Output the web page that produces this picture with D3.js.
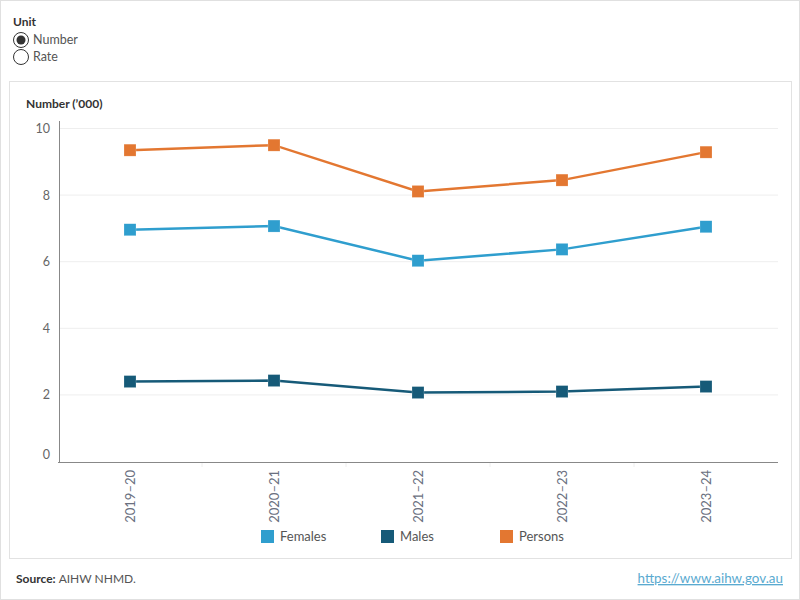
<!DOCTYPE html>
<html><head><meta charset="utf-8">
<script src="https://cdn.jsdelivr.net/npm/d3@7"></script>
<style>
body{margin:0;background:#fff;}
svg{display:block;font-family:Lato,"Noto Sans",sans-serif;}
</style></head>
<body><svg id="chart" width="800" height="600"></svg>
<script>
const categories = ["2019–20","2020–21","2021–22","2022–23","2023–24"];
const females = [6.96, 7.07, 6.03, 6.37, 7.05];
const males = [2.40, 2.43, 2.07, 2.10, 2.25];
const persons = [9.35, 9.50, 8.11, 8.45, 9.29];
const yTicks = [0, 2, 4, 6, 8, 10];
const seriesNames = ["Females","Males","Persons"];
const seriesColors = ["#2F9ECE","#165A78","#E37731"];

const series = [
  {name: seriesNames[0], values: females, color: seriesColors[0]},
  {name: seriesNames[1], values: males, color: seriesColors[1]},
  {name: seriesNames[2], values: persons, color: seriesColors[2]}
];

const svg = d3.select("#chart");
svg.append("rect").attr("x",0.5).attr("y",0.5).attr("width",799).attr("height",599)
  .attr("fill","none").attr("stroke","#e0e0e0");
svg.append("text").attr("x",13).attr("y",26).text("Unit")
  .attr("font-size",12).attr("font-weight","bold").attr("fill","#333");
const radios = [{label:"Number", checked:true},{label:"Rate", checked:false}];
radios.forEach((r,i)=>{
  const cy = 40 + i*17;
  svg.append("circle").attr("cx",21).attr("cy",cy).attr("r",7.5)
    .attr("fill","#fff").attr("stroke","#333").attr("stroke-width",1);
  if(r.checked) svg.append("circle").attr("cx",21).attr("cy",cy).attr("r",4.5).attr("fill","#333");
  svg.append("text").attr("x",33).attr("y",cy+4).text(r.label)
    .attr("font-size",12.5).attr("fill","#555");
});
svg.append("rect").attr("x",9.5).attr("y",81.5).attr("width",782).attr("height",477)
  .attr("fill","none").attr("stroke","#e2e2e2");
svg.append("text").attr("x",26).attr("y",108).text("Number (’000)")
  .attr("font-size",12).attr("font-weight","bold").attr("fill","#333");

const x = d3.scaleBand().domain(categories).range([58,778]);
const y = d3.scaleLinear().domain([0,10]).range([461.5,128.5]);

svg.append("g").selectAll("line").data(yTicks.filter(d=>d>0)).join("line")
  .attr("x1",59).attr("x2",778).attr("y1",d=>y(d)).attr("y2",d=>y(d))
  .attr("stroke","#eeeeee").attr("stroke-width",1);

const yAxis = svg.append("g").attr("transform","translate(59,0)")
  .call(d3.axisLeft(y).tickValues(yTicks).tickSize(0).tickPadding(9));
yAxis.select(".domain").attr("stroke","#888").attr("d","M0.5,121V462");
yAxis.selectAll("text").attr("font-size",12.5).attr("fill","#666")
  .attr("font-family","Lato,'Noto Sans',sans-serif")
  .attr("dy", d=> d===0 ? "-0.25em" : "0.32em");

const xAxis = svg.append("g").attr("transform","translate(0,462)")
  .call(d3.axisBottom(x).tickSize(0).tickPadding(0));
xAxis.select(".domain").attr("stroke","#888").attr("d","M58,0.5H778");
xAxis.selectAll("text").attr("font-size",13).attr("fill","#6a7080")
  .attr("font-family","Lato,'Noto Sans',sans-serif")
  .attr("transform","rotate(-90)").attr("text-anchor","end")
  .attr("x",-8).attr("y",0).attr("dy","0.35em");
svg.append("g").selectAll("line").data(categories.slice(1)).join("line")
  .attr("x1",d=>x(d)).attr("x2",d=>x(d)).attr("y1",463).attr("y2",467)
  .attr("stroke","#eeeeee");

const line = d3.line().x((d,i)=>x(categories[i])+x.bandwidth()/2).y(d=>y(d));
const sq = 12;
series.forEach(s=>{
  svg.append("path").attr("d",line(s.values)).attr("fill","none")
    .attr("stroke",s.color).attr("stroke-width",2.5);
  svg.append("g").selectAll("rect").data(s.values).join("rect")
    .attr("x",(d,i)=>x(categories[i])+x.bandwidth()/2-sq/2)
    .attr("y",d=>y(d)-sq/2).attr("width",sq).attr("height",sq)
    .attr("fill",s.color).attr("stroke","#fff").attr("stroke-opacity",0.4).attr("stroke-width",0.5);
});

const legendX = [261, 381, 500];
series.forEach((s,i)=>{
  svg.append("rect").attr("x",legendX[i]).attr("y",530).attr("width",13).attr("height",13).attr("fill",s.color);
  svg.append("text").attr("x",legendX[i]+19).attr("y",541).text(s.name)
    .attr("font-size",13).attr("fill","#555");
});

const src = svg.append("text").attr("x",16).attr("y",583).attr("font-size",12).attr("fill","#555");
src.append("tspan").attr("font-weight","bold").attr("fill","#333").text("Source: ");
src.append("tspan").text("AIHW NHMD.");
svg.append("text").attr("x",783).attr("y",583).attr("text-anchor","end").attr("font-size",13.4)
  .attr("fill","#5AAAD0").attr("text-decoration","underline").text("https://www.aihw.gov.au");
</script></body></html>
